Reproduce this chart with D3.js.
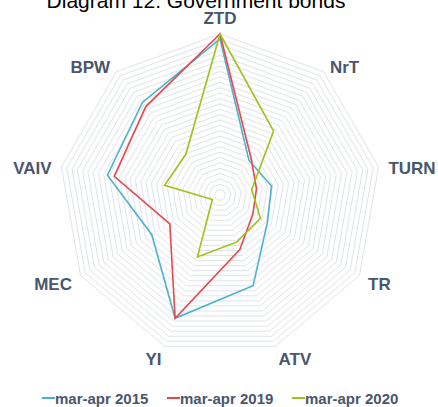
<!DOCTYPE html>
<html>
<head>
<meta charset="utf-8">
<script src="https://cdn.jsdelivr.net/npm/d3@7/dist/d3.min.js"></script>
<style>
  html, body { margin: 0; padding: 0; background: #fff; }
  svg { display: block; font-family: "Liberation Sans", Arial, sans-serif; }
</style>
</head>
<body>
<div id="chart"></div>
<script>
const axes = ['ZTD', 'NrT', 'TURN', 'TR', 'ATV', 'YI', 'MEC', 'VAIV', 'BPW'];
const seriesNames = ['mar-apr 2015', 'mar-apr 2019', 'mar-apr 2020'];
const s2015 = [0.97, 0.28, 0.325, 0.34, 0.60, 0.815, 0.49, 0.71, 0.75];
const s2019 = [1.00, 0.30, 0.23, 0.236, 0.36, 0.815, 0.36, 0.667, 0.717];
const s2020 = [1.00, 0.518, 0.20, 0.29, 0.31, 0.41, 0.055, 0.35, 0.33];
const gridLevels = d3.range(1, 31).map(i => i / 30);

const colors = ['#4bb3cc', '#e8474c', '#9dc31a'];
const w = 438, h = 407;
const cx = 220, cy = 195, R = 161;

const svg = d3.select('#chart').append('svg')
  .attr('width', w)
  .attr('height', h);

const rScale = d3.scaleLinear().domain([0, 1]).range([0, R]);
const aScale = d3.scaleLinear().domain([0, axes.length]).range([0, 2 * Math.PI]);

const g = svg.append('g').attr('transform', `translate(${cx},${cy})`);

const radial = d3.lineRadial()
  .angle((d, i) => aScale(i))
  .radius(d => rScale(d))
  .curve(d3.curveLinearClosed);

// grid polygons
g.selectAll('.grid')
  .data(gridLevels)
  .enter()
  .append('path')
  .attr('class', 'grid')
  .attr('d', lv => radial(axes.map(() => lv)))
  .attr('fill', 'none')
  .attr('stroke', '#dfe4eb')
  .attr('stroke-width', 1);

// series
const series = [s2015, s2019, s2020];
g.selectAll('.series')
  .data(series)
  .enter()
  .append('path')
  .attr('class', 'series')
  .attr('d', d => radial(d))
  .attr('fill', 'none')
  .attr('stroke', (d, i) => colors[i])
  .attr('stroke-width', 1.6)
  .attr('stroke-linejoin', 'miter');

// axis labels
g.selectAll('.lbl')
  .data(axes)
  .enter()
  .append('text')
  .attr('class', 'lbl')
  .each(function (d, i) {
    const a = aScale(i);
    const s = Math.sin(a), c = Math.cos(a);
    const el = d3.select(this);
    if (Math.abs(s) < 0.1) {
      el.attr('x', 0).attr('y', -(R + 16.5) + 6).attr('text-anchor', 'middle');
    } else {
      const rl = 171;
      el.attr('x', rl * s)
        .attr('y', -rl * c + 3 + 6)
        .attr('text-anchor', s > 0 ? 'start' : 'end');
    }
  })
  .text(d => d)
  .style('font-size', '17px')
  .style('font-weight', 'bold')
  .attr('fill', '#4a566b');

// title (cut off at the top)
svg.append('text')
  .attr('x', 196)
  .attr('y', 8)
  .attr('text-anchor', 'middle')
  .style('font-size', '21px')
  .attr('fill', '#000')
  .text('Diagram 12. Government bonds');

// legend
const legend = svg.append('g').attr('transform', 'translate(42,398)');
const item = legend.selectAll('.item')
  .data(seriesNames)
  .enter()
  .append('g')
  .attr('class', 'item')
  .attr('transform', (d, i) => `translate(${i * 125},0)`);
item.append('line')
  .attr('x1', 0).attr('x2', 13)
  .attr('y1', 0).attr('y2', 0)
  .attr('stroke', (d, i) => colors[i])
  .attr('stroke-width', 2);
item.append('text')
  .attr('x', 13)
  .attr('y', 5.5)
  .style('font-size', '15px')
  .style('font-weight', 'bold')
  .attr('fill', '#4a566b')
  .text(d => d);
</script>
</body>
</html>
